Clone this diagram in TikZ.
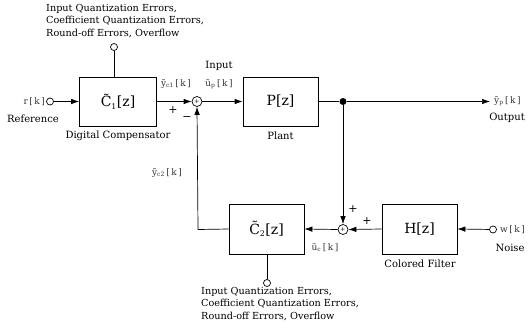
\documentclass[tikz,border=0pt]{standalone}
\usepackage{fontspec}
\setmainfont{DejaVu Serif}
\usetikzlibrary{arrows.meta}
\newcommand\bk[1]{\,[\,#1\,]}
\begin{document}
\begin{tikzpicture}[x=1pt,y=-1pt,
  blk/.style={draw,line width=0.7pt,minimum width=75pt,minimum height=49pt,inner sep=0pt,font=\fontsize{14}{16}\selectfont},
  sumc/.style={draw,circle,line width=0.7pt,minimum size=10pt,inner sep=0pt,font=\fontsize{6}{6}\selectfont},
  port/.style={draw,circle,line width=0.7pt,minimum size=7pt,inner sep=0pt},
  jdot/.style={fill,circle,minimum size=7pt,inner sep=0pt},
  wire/.style={line width=0.7pt},
  arr/.style={wire,-{Latex[length=8pt,width=5.5pt]}},
  lbl/.style={font=\fontsize{9}{10}\selectfont,inner sep=0pt,text=black!80},
  captxt/.style={font=\fontsize{10}{11}\selectfont,inner sep=0pt},
  note/.style={font=\fontsize{9.7}{12.5}\selectfont,align=left,inner sep=0pt,anchor=north west},
  sgn/.style={font=\fontsize{11}{11}\selectfont,inner sep=0pt}]
\useasboundingbox (0,0) rectangle (529,329);
% blocks
\node[blk,minimum width=77pt] (C1) at (118,101.5) {C̃\textsubscript{\scalebox{0.8}{1}}[z]};
\node[blk] (P) at (280.5,101.5) {P[z]};
\node[blk,minimum height=50pt] (C2) at (266.5,229) {C̃\textsubscript{\scalebox{0.8}{2}}[z]};
\node[blk,minimum height=50pt] (H) at (419.5,229) {H[z]};
\node[sumc] (S1) at (197,101.5) {+};
\node[sumc] (S2) at (343,229.5) {+};
\node[jdot] (D) at (343,101.5) {};
\node[port] (R) at (50,101.5) {};
\node[port] (N1) at (114,47) {};
\node[port] (N2) at (267,283) {};
\node[port] (W) at (493,229.5) {};
\coordinate (O) at (490,101.5);
\coordinate (K) at (198,229.5);
% connectors
\draw[arr] (R) -- (C1.west);
\draw[arr] (C1.east) -- (S1.west);
\draw[arr] (S1.east) -- (P.west);
\draw[wire] (P.east) -- (D);
\draw[arr] (D) -- (O);
\draw[arr] (D) -- (S2.north);
\draw[wire] (N1) -- (N1 |- C1.north);
\draw[arr] (W) -- (H.east);
\draw[arr] (H.west) -- (S2.east);
\draw[arr] (S2.west) -- (C2.east);
\draw[wire] (C2.west) -- (K);
\draw[arr] (K) -- (S1.south);
\draw[wire] (N2 |- C2.south) -- (N2);
% labels
\node[lbl,anchor=east] (rk) at (45,101.5) {r\bk{k}};
\node[captxt] (ref) at (33,119) {Reference};
\node[note] (n1t) at (46,4) {Input Quantization Errors,\\Coefficient Quantization Errors,\\Round-off Errors, Overflow};
\node[captxt] (dc) at (118,136) {Digital Compensator};
\node[lbl] (yc1) at (176,84) {ỹ\textsubscript{c1}\bk{k}};
\node[sgn] (p1) at (173,110) {+};
\node[sgn] (m1) at (187,119) {−};
\node[captxt] (inp) at (219,66) {Input};
\node[lbl] (up) at (219,84) {ũ\textsubscript{p}\bk{k}};
\node[captxt] (pl) at (280.5,136) {Plant};
\node[lbl,anchor=west] (yp) at (494,101.5) {ỹ\textsubscript{p}\bk{k}};
\node[captxt] (out) at (507,118) {Output};
\node[lbl] (yc2) at (167,173) {ỹ\textsubscript{c2}\bk{k}};
\node[sgn] (p2) at (353,209) {+};
\node[sgn] (p3) at (367,221) {+};
\node[lbl] (uc) at (325,248) {ũ\textsubscript{c}\bk{k}};
\node[captxt] (cf) at (420,264) {Colored Filter};
\node[lbl,anchor=west] (wk) at (500,229.5) {w\bk{k}};
\node[captxt] (ns) at (510,248) {Noise};
\node[note] (n2t) at (201,287) {Input Quantization Errors,\\Coefficient Quantization Errors,\\Round-off Errors, Overflow};
\end{tikzpicture}
\end{document}
